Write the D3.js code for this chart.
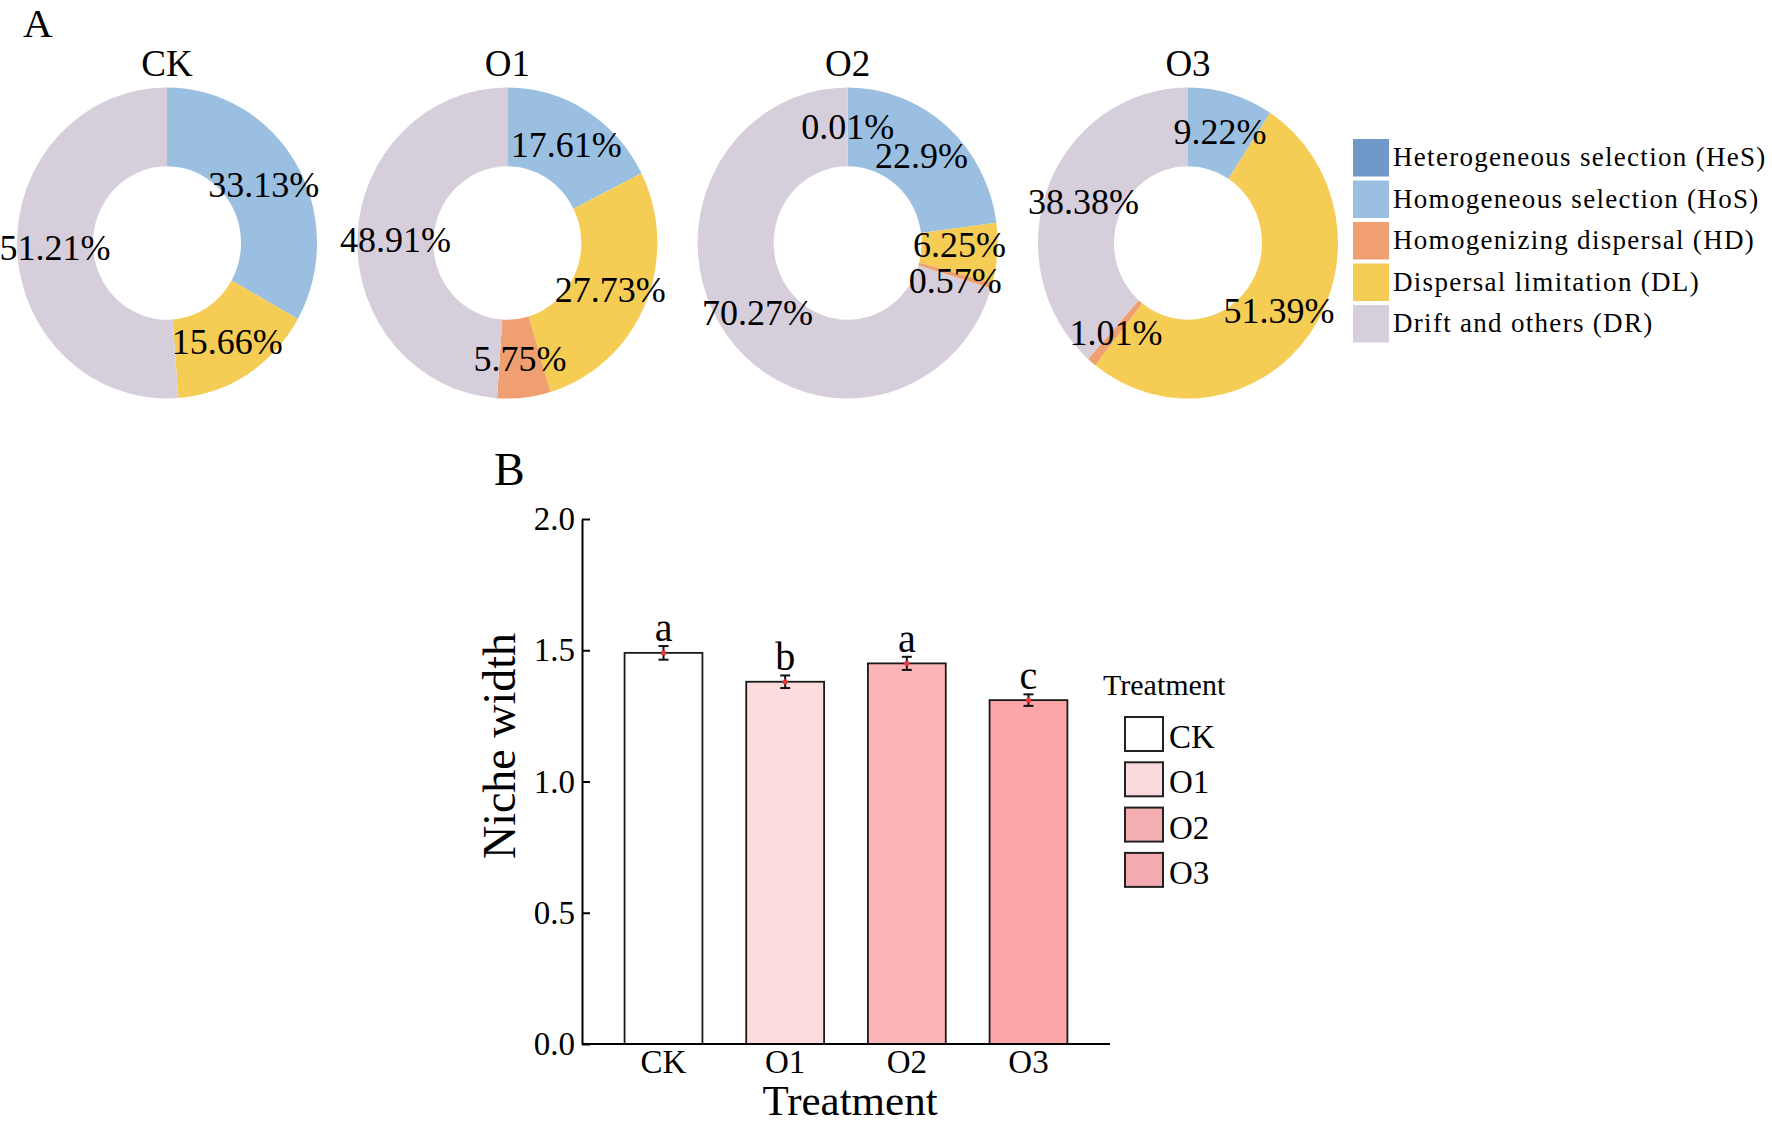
<!DOCTYPE html>
<html>
<head>
<meta charset="utf-8">
<script src="https://cdn.jsdelivr.net/npm/d3@7"></script>
<style>
  body { margin: 0; background: #fff; }
  svg text { font-family: "Liberation Serif", "Times New Roman", serif; fill: #000; }
</style>
</head>
<body>
<svg id="chart" width="1772" height="1126"></svg>
<script>
// ---- panel A data (percent of assembly processes) ----
var groups = ["CK", "O1", "O2", "O3"];
var processNames = ["Heterogeneous selection (HeS)", "Homogeneous selection (HoS)",
                    "Homogenizing dispersal (HD)", "Dispersal limitation (DL)", "Drift and others (DR)"];
var processKeys = ["HeS", "HoS", "HD", "DL", "DR"];
var processColors = ["#7098c8", "#9bbfe0", "#f0a070", "#f5cd55", "#d7cedc"];
var hesValues = [0, 0, 0.01, 0];
var hosValues = [33.13, 17.61, 22.9, 9.22];
var hdValues = [0, 5.75, 0.57, 1.01];
var dlValues = [15.66, 27.73, 6.25, 51.39];
var drValues = [51.21, 48.91, 70.27, 38.38];
// order of slices going clockwise from 12 o'clock
var sliceOrder = ["HeS", "HoS", "DL", "HD", "DR"];

// ---- panel B data (niche width) ----
var nicheMean = [1.49, 1.38, 1.45, 1.31];
var nicheErr = [0.026, 0.024, 0.025, 0.022];
var nicheLetters = ["a", "b", "a", "c"];
var barColors = ["#ffffff", "#fddcdd", "#fdb5b7", "#fca6a7"];
var legendColors = ["#ffffff", "#fadadc", "#f2aeb1", "#f2abae"];
var yTicks = [0, 0.5, 1.0, 1.5, 2.0];

var svg = d3.select("#chart");

var valuesByKey = { HeS: hesValues, HoS: hosValues, HD: hdValues, DL: dlValues, DR: drValues };
var colorByKey = d3.scaleOrdinal().domain(processKeys).range(processColors);

// ================= Panel A =================
svg.append("text").attr("x", 23).attr("y", 37).attr("font-size", 41).text("A");

var cx = d3.scalePoint().domain(groups).range([167, 1188]);
var cy = 243, outerR = 150, innerR = 74, squash = 1.037;

var pie = d3.pie().sort(null).value(function(d) { return d.value; });
var path = d3.arc().innerRadius(innerR).outerRadius(outerR);

groups.forEach(function(g, gi) {
  var data = sliceOrder.map(function(k) { return { key: k, value: valuesByKey[k][gi] }; });
  var arcs = pie(data);

  var holder = svg.append("g").attr("transform", "translate(" + cx(g) + "," + cy + ")");

  holder.append("text")
    .attr("x", 0).attr("y", 76 - cy)
    .attr("text-anchor", "middle")
    .attr("font-size", 37)
    .text(g);

  holder.append("g")
    .attr("transform", "scale(1," + squash + ")")
    .selectAll("path")
    .data(arcs.filter(function(d) { return d.value > 0; }))
    .enter()
    .append("path")
    .attr("fill", function(d) { return colorByKey(d.data.key); })
    .attr("d", path);

  // label positions at arc centroids, then push apart the ones that collide
  var labels = arcs.filter(function(d) { return d.value > 0; }).map(function(d) {
    var c = path.centroid(d);
    return { text: d.value + "%", x: c[0], y: c[1] * squash };
  });
  for (var it = 0; it < 30; it++) {
    for (var i = 0; i < labels.length; i++) {
      for (var j = i + 1; j < labels.length; j++) {
        var a = labels[i], b = labels[j];
        var dx = b.x - a.x, dy = b.y - a.y;
        if (Math.abs(dx) < 70 && Math.abs(dy) < 36) {
          var push = (36 - Math.abs(dy)) / 2;
          var s = dy >= 0 ? 1 : -1;
          a.y -= s * push; b.y += s * push;
        }
      }
    }
  }

  holder.selectAll("text.pct")
    .data(labels)
    .enter()
    .append("text")
    .attr("class", "pct")
    .attr("x", function(d) { return d.x; })
    .attr("y", function(d) { return d.y; })
    .attr("dy", "0.35em")
    .attr("text-anchor", "middle")
    .attr("font-size", 36)
    .text(function(d) { return d.text; });
});

// legend for panel A
var legA = svg.append("g").attr("transform", "translate(1353,139)");
var legItemA = legA.selectAll("g")
  .data(processKeys)
  .enter()
  .append("g")
  .attr("transform", function(d, i) { return "translate(0," + (i * 41.5) + ")"; });
legItemA.append("rect")
  .attr("width", 36).attr("height", 37.5)
  .attr("fill", function(d) { return colorByKey(d); });
legItemA.append("text")
  .attr("x", 40).attr("y", 27)
  .attr("font-size", 27)
  .attr("letter-spacing", 1.3)
  .text(function(d, i) { return processNames[i]; });

// ================= Panel B =================
svg.append("text").attr("x", 494).attr("y", 485).attr("font-size", 46).text("B");

var x = d3.scaleBand().domain(groups).range([582, 1110]).paddingInner(0.36).paddingOuter(0.35);
var y = d3.scaleLinear().domain([0, 2]).range([1044, 519]);

var bars = svg.append("g");
bars.selectAll("rect")
  .data(groups)
  .enter()
  .append("rect")
  .attr("x", function(d) { return x(d); })
  .attr("y", function(d, i) { return y(nicheMean[i]); })
  .attr("width", x.bandwidth())
  .attr("height", function(d, i) { return y(0) - y(nicheMean[i]); })
  .attr("fill", function(d, i) { return barColors[i]; })
  .attr("stroke", "#1a1a1a")
  .attr("stroke-width", 1.8);

// error bars
var err = svg.append("g").attr("stroke", "#111").attr("stroke-width", 2);
groups.forEach(function(g, i) {
  var mx = x(g) + x.bandwidth() / 2;
  var top = y(nicheMean[i] + nicheErr[i]), bot = y(nicheMean[i] - nicheErr[i]);
  err.append("line").attr("x1", mx).attr("x2", mx).attr("y1", top).attr("y2", bot);
  err.append("line").attr("x1", mx - 5).attr("x2", mx + 5).attr("y1", top).attr("y2", top);
  err.append("line").attr("x1", mx - 5).attr("x2", mx + 5).attr("y1", bot).attr("y2", bot);
  svg.append("circle").attr("cx", mx).attr("cy", y(nicheMean[i])).attr("r", 2.6).attr("fill", "#e8383d");
  svg.append("text")
    .attr("x", mx).attr("y", top - 5)
    .attr("text-anchor", "middle")
    .attr("font-size", 40)
    .text(nicheLetters[i]);
});

// axes
var yAxis = svg.append("g")
  .attr("transform", "translate(582,0)")
  .call(d3.axisLeft(y).tickValues(yTicks).tickFormat(d3.format(".1f"))
    .tickSizeInner(-8).tickSizeOuter(0).tickPadding(7));
var xAxis = svg.append("g")
  .attr("transform", "translate(0,1044)")
  .call(d3.axisBottom(x).tickSize(0).tickPadding(7));
[yAxis, xAxis].forEach(function(ax) {
  ax.select(".domain").attr("stroke", "#000").attr("stroke-width", 2);
  ax.selectAll(".tick line").attr("stroke", "#000").attr("stroke-width", 2);
  ax.selectAll(".tick text").attr("font-size", 33).attr("fill", "#000");
});
xAxis.select(".domain").attr("d", "M582,0H1110");
xAxis.selectAll(".tick text").attr("dy", "0.6em").attr("y", 9);

svg.append("text")
  .attr("transform", "translate(515,746) rotate(-90)")
  .attr("text-anchor", "middle")
  .attr("font-size", 46)
  .text("Niche width");
svg.append("text")
  .attr("x", 850).attr("y", 1115)
  .attr("text-anchor", "middle")
  .attr("font-size", 43)
  .text("Treatment");

// legend for panel B
var legB = svg.append("g").attr("transform", "translate(1103,695)");
legB.append("text").attr("x", 0).attr("y", 0).attr("font-size", 30).text("Treatment");
var legItemB = legB.selectAll("g.item")
  .data(groups)
  .enter()
  .append("g")
  .attr("class", "item")
  .attr("transform", function(d, i) { return "translate(22," + (22 + i * 45.3) + ")"; });
legItemB.append("rect")
  .attr("width", 38).attr("height", 34)
  .attr("fill", function(d, i) { return legendColors[i]; })
  .attr("stroke", "#222")
  .attr("stroke-width", 2);
legItemB.append("text")
  .attr("x", 44).attr("y", 31)
  .attr("font-size", 33)
  .text(function(d) { return d; });
</script>
</body>
</html>
